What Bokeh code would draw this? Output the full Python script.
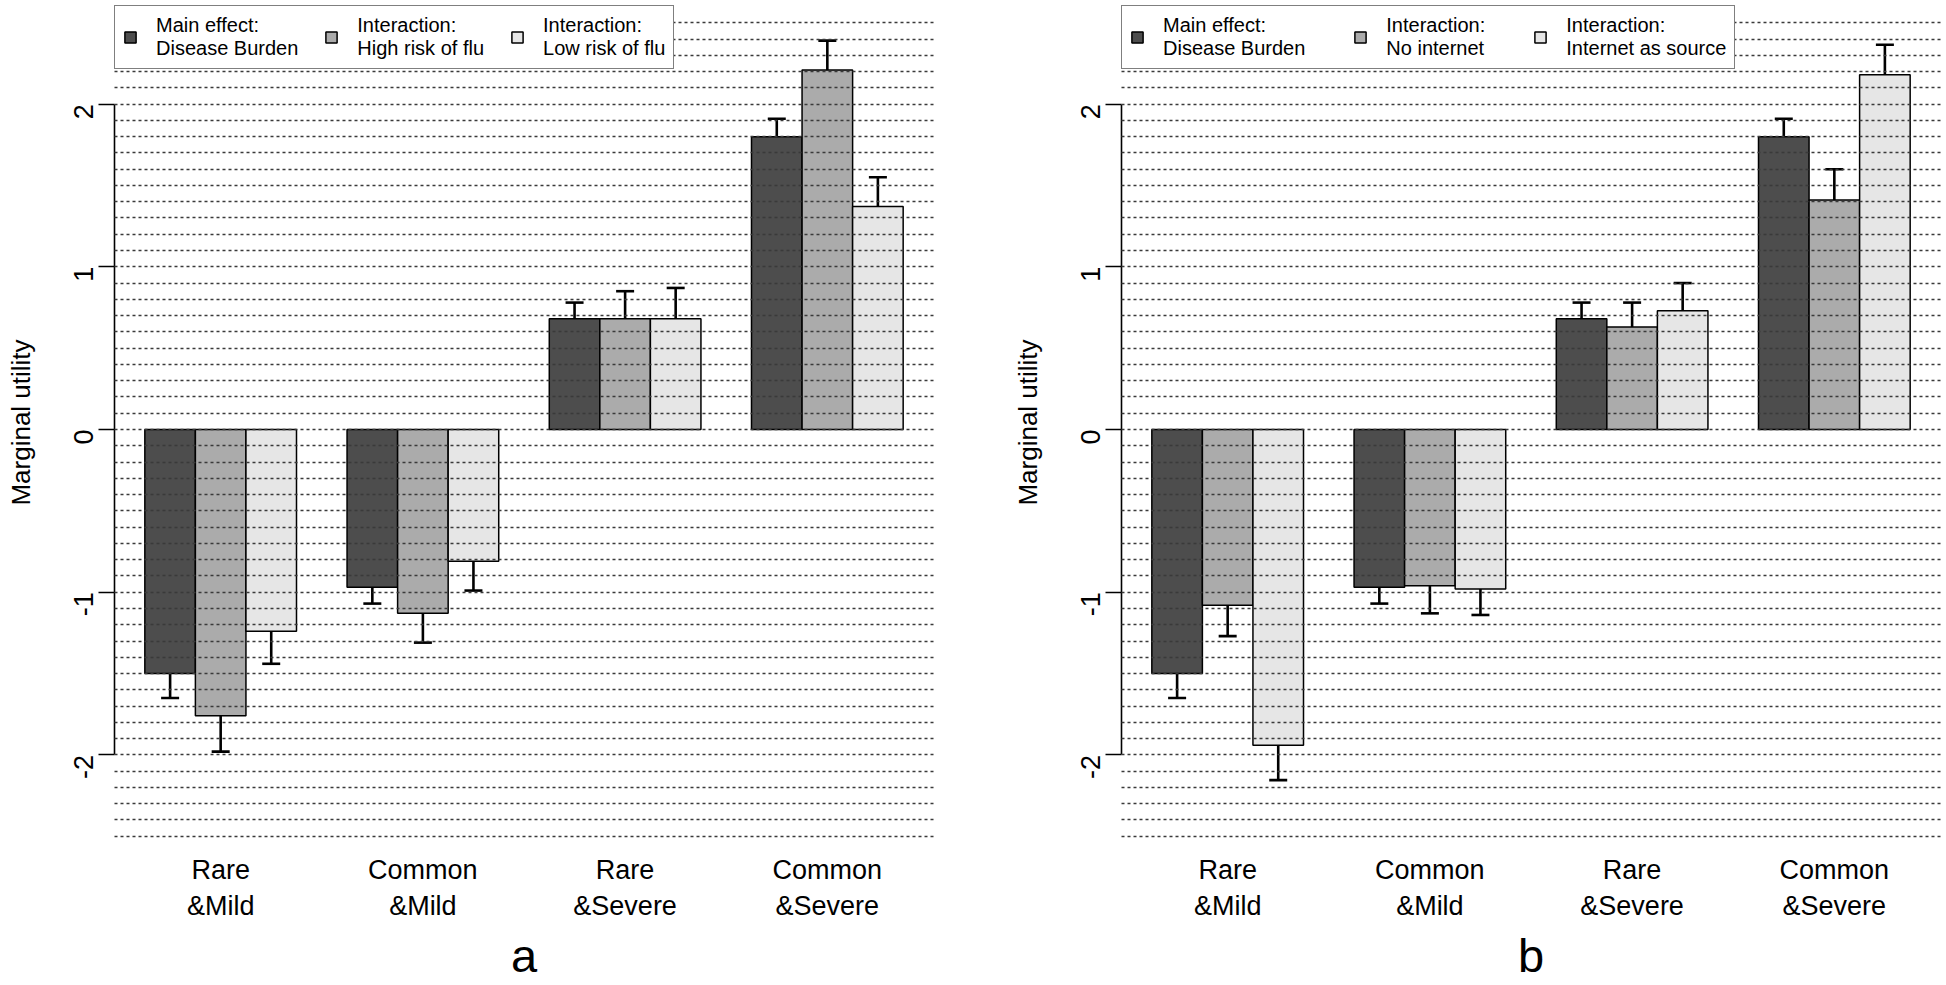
import math
import numpy as np
from bokeh.plotting import figure
from bokeh.models import (ColumnDataSource, Range1d, FixedTicker, Grid, Whisker,
                          TeeHead, Legend, LegendItem)
from bokeh.layouts import row
from bokeh.embed import file_html
from bokeh.resources import INLINE

# ---------------- data ----------------
categories = ["Rare\n&Mild", "Common\n&Mild", "Rare\n&Severe", "Common\n&Severe"]
panel_labels = ["a", "b"]
y_label = "Marginal utility"
y_ticks = [-2, -1, 0, 1, 2]
y_tick_labels = ["-2", "-1", "0", "1", "2"]

main_effect = [-1.50, -0.97, 0.68, 1.80]
main_effect_se = [0.15, 0.10, 0.10, 0.11]

high_risk_flu = [-1.76, -1.13, 0.68, 2.21]
high_risk_flu_se = [0.22, 0.18, 0.17, 0.18]

low_risk_flu = [-1.24, -0.81, 0.68, 1.37]
low_risk_flu_se = [0.20, 0.18, 0.19, 0.18]

no_internet = [-1.08, -0.96, 0.63, 1.41]
no_internet_se = [0.19, 0.17, 0.15, 0.19]

internet_source = [-1.94, -0.98, 0.73, 2.18]
internet_source_se = [0.215, 0.16, 0.17, 0.185]

labels_a = ["Main effect:\nDisease Burden", "Interaction:\nHigh risk of flu",
            "Interaction:\nLow risk of flu"]
labels_b = ["Main effect:\nDisease Burden", "Interaction:\nNo internet",
            "Interaction:\nInternet as source"]

colors = ["#4d4d4d", "#ababab", "#e6e6e6"]
FONT = "Liberation Sans"

n_groups = len(categories)
n_series = 3
# R barplot(beside=TRUE) layout: one empty bar-width between groups
group_centers = [1 + g * (n_series + 1) + n_series / 2 for g in range(n_groups)]
x_lo = 1
x_hi = n_groups * (n_series + 1)
pad = 0.04 * (x_hi - x_lo)
grid_ticks = list(np.round(np.arange(-25, 26) / 10.0, 2))


def make_panel(series, panel_label, width, border_right, spacing):
    p = figure(width=width, height=984, output_backend="svg", toolbar_location=None,
               x_range=Range1d(x_lo - pad, x_hi + pad), y_range=Range1d(-2.52, 2.606),
               min_border_left=114, min_border_right=border_right,
               min_border_top=5, min_border_bottom=141,
               background_fill_color="white", border_fill_color="white")
    p.outline_line_color = None
    p.xgrid.visible = False
    p.ygrid.visible = False

    items = []
    for j, (lab, vals, ses) in enumerate(series):
        xs = [1 + g * (n_series + 1) + j + 0.5 for g in range(n_groups)]
        src = ColumnDataSource(dict(
            x=xs, top=vals,
            upper=[v + s for v, s in zip(vals, ses)],
            lower=[v - s for v, s in zip(vals, ses)]))
        r = p.vbar(x="x", top="top", bottom=0, width=1.0, source=src,
                   fill_color=colors[j], line_color="black", line_width=1.5)
        items.append(LegendItem(label=lab, renderers=[r]))
        w = Whisker(base="x", upper="upper", lower="lower", source=src,
                    line_color="black", line_width=2.6,
                    upper_head=TeeHead(size=18, line_width=2.6, line_color="black"),
                    lower_head=TeeHead(size=18, line_width=2.6, line_color="black"))
        p.add_layout(w)

    grid = Grid(dimension=1, ticker=FixedTicker(ticks=grid_ticks),
                grid_line_color="#3a3a3a", grid_line_width=1.4,
                grid_line_dash="3 3")
    grid.level = "guide"
    p.add_layout(grid)

    # y axis
    ya = p.yaxis[0]
    ya.ticker = FixedTicker(ticks=y_ticks)
    ya.major_label_overrides = {t: s for t, s in zip(y_ticks, y_tick_labels)}
    ya.bounds = (-2, 2)
    ya.axis_label = y_label
    ya.axis_label_text_font = FONT
    ya.axis_label_text_font_size = "26px"
    ya.axis_label_text_font_style = "normal"
    ya.axis_label_text_color = "black"
    ya.axis_label_standoff = 26
    ya.major_label_text_font = FONT
    ya.major_label_text_font_size = "27px"
    ya.major_label_text_color = "black"
    ya.major_label_orientation = math.pi / 2
    ya.major_label_standoff = 15
    ya.major_tick_out = 16
    ya.major_tick_in = 0
    ya.minor_tick_out = 0
    ya.minor_tick_in = 0
    ya.axis_line_width = 1.6
    ya.major_tick_line_width = 1.6
    ya.axis_line_color = "black"
    ya.major_tick_line_color = "black"

    # x axis
    xa = p.xaxis[0]
    xa.ticker = FixedTicker(ticks=group_centers)
    xa.major_label_overrides = {c: cat for c, cat in zip(group_centers, categories)}
    xa.axis_line_color = None
    xa.major_tick_line_color = None
    xa.minor_tick_line_color = None
    xa.major_tick_out = 0
    xa.major_tick_in = 0
    xa.minor_tick_out = 0
    xa.minor_tick_in = 0
    xa.major_label_text_font = FONT
    xa.major_label_text_font_size = "27px"
    xa.major_label_text_color = "black"
    xa.major_label_standoff = 15
    xa.axis_label = panel_label
    xa.axis_label_text_font = FONT
    xa.axis_label_text_font_size = "47px"
    xa.axis_label_text_font_style = "normal"
    xa.axis_label_text_color = "black"
    xa.axis_label_standoff = 5

    legend = Legend(items=items, orientation="horizontal", location="top_left",
                    margin=0, padding=8, spacing=spacing, glyph_width=14, glyph_height=14,
                    label_standoff=19, label_text_font=FONT, label_text_font_size="20px",
                    label_text_color="black", label_text_line_height=1.15,
                    border_line_color="black", border_line_width=1.4,
                    background_fill_color="white", background_fill_alpha=1.0)
    p.add_layout(legend)
    return p


series_a = [(labels_a[0], main_effect, main_effect_se),
            (labels_a[1], high_risk_flu, high_risk_flu_se),
            (labels_a[2], low_risk_flu, low_risk_flu_se)]
series_b = [(labels_b[0], main_effect, main_effect_se),
            (labels_b[1], no_internet, no_internet_se),
            (labels_b[2], internet_source, internet_source_se)]

pa = make_panel(series_a, panel_labels[0], 1007, 74, 26)
pb = make_panel(series_b, panel_labels[1], 935, 2, 48)

layout = row(pa, pb)
open("out.html", "w").write(file_html(layout, INLINE))
